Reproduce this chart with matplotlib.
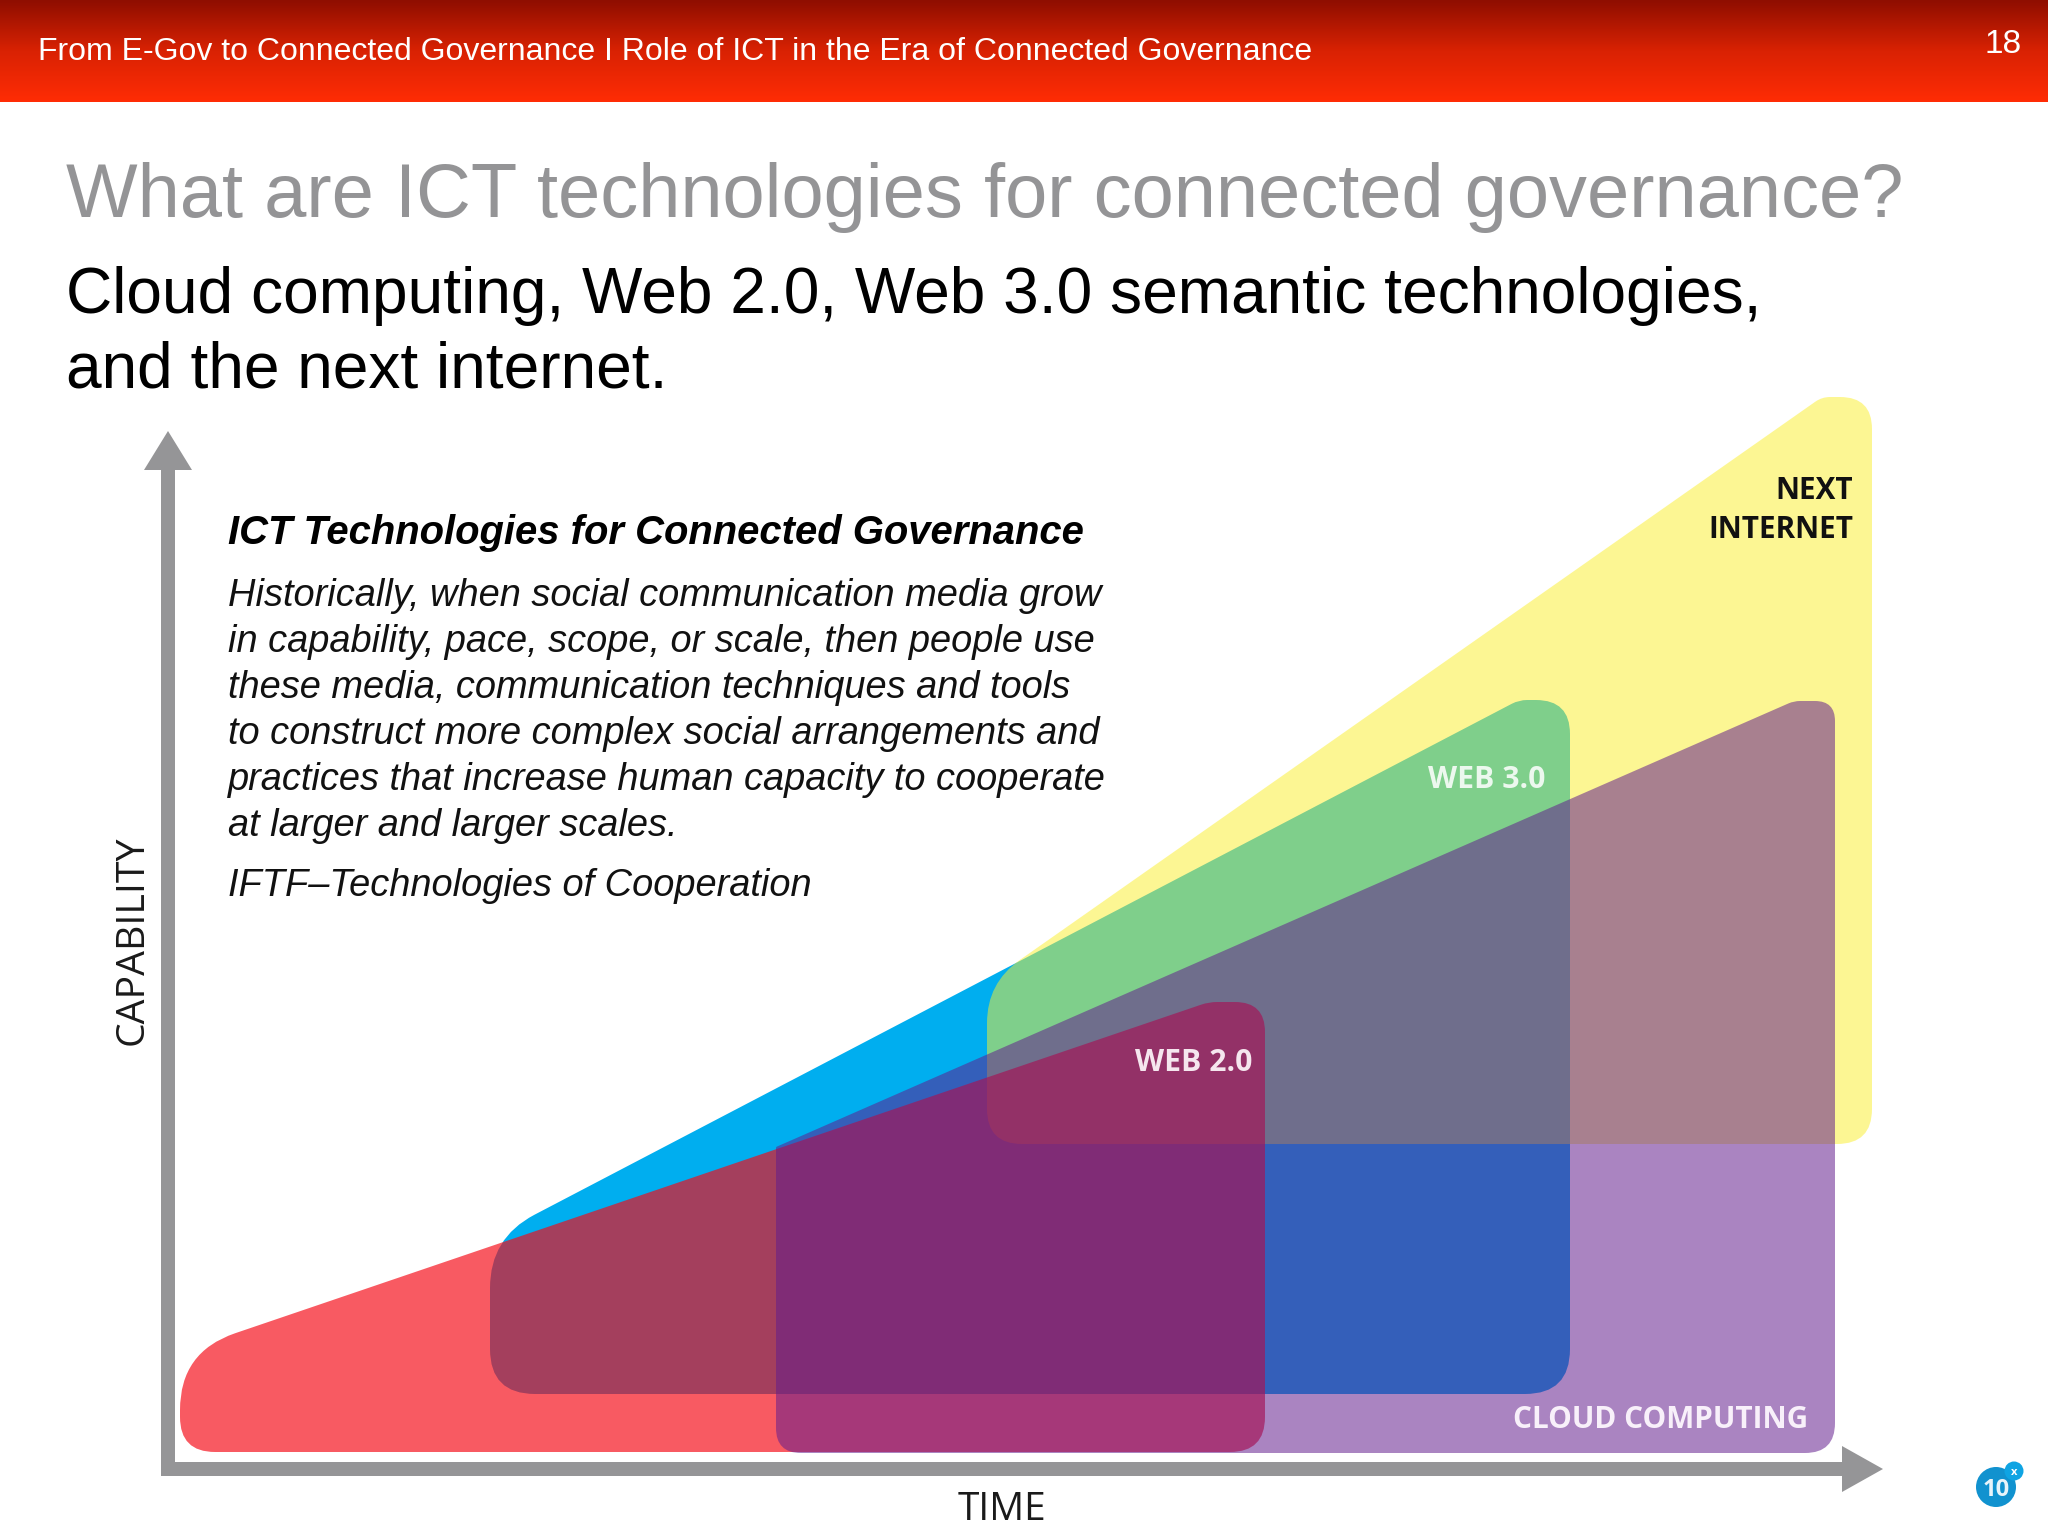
import numpy as np
import matplotlib
matplotlib.use("Agg")
import matplotlib.pyplot as plt
from matplotlib.colors import LinearSegmentedColormap
from matplotlib.patches import Circle, PathPatch, Polygon
from matplotlib.path import Path

plt.rcParams['font.family'] = ['Liberation Sans', 'DejaVu Sans']

header_text = "From E-Gov to Connected Governance I Role of ICT in the Era of Connected Governance"
page_number = "18"
title = "What are ICT technologies for connected governance?"
subtitle_lines = ["Cloud computing, Web 2.0, Web 3.0 semantic technologies,", "and the next internet."]
inset_title = "ICT Technologies for Connected Governance"
inset_lines = ["Historically, when social communication media grow",
               "in capability, pace, scope, or scale, then people use",
               "these media, communication techniques and tools",
               "to construct more complex social arrangements and",
               "practices that increase human capacity to cooperate",
               "at larger and larger scales."]
inset_source = "IFTF\u2013Technologies of Cooperation"

# outline corners of each region (x, y in image pixels) and how far each corner is rounded
red_corners = [(180, 1352), (180, 1452), (1265, 1452), (1265, 1002), (1209, 1002)]
red_round = [58, 35, 35, 30, 8]
blue_corners = [(490, 1238), (490, 1394), (1570, 1394), (1570, 700), (1519, 700)]
blue_round = [50, 45, 45, 34, 8]
yellow_corners = [(987, 983), (987, 1144), (1872, 1144), (1872, 397), (1822, 397)]
yellow_round = [40, 35, 35, 32, 8]
purple_corners = [(776, 1147), (776, 1453), (1835, 1453), (1835, 701), (1794, 701)]
purple_round = [1, 25, 30, 20, 6]


def rounded_path(corners, rounds):
    verts = []
    codes = []
    n = len(corners)
    for i in range(n):
        p = np.array(corners[i], dtype=float)
        prev = np.array(corners[i - 1], dtype=float)
        nxt = np.array(corners[(i + 1) % n], dtype=float)
        start = p + (prev - p) / np.linalg.norm(prev - p) * rounds[i]
        end = p + (nxt - p) / np.linalg.norm(nxt - p) * rounds[i]
        verts += [start, p, end]
        codes += [Path.MOVETO if i == 0 else Path.LINETO, Path.CURVE3, Path.CURVE3]
    verts.append(verts[0])
    codes.append(Path.CLOSEPOLY)
    return Path(verts, codes)


fig = plt.figure(figsize=(20.48, 15.36), dpi=100)
ax = fig.add_axes([0, 0, 1, 1])

# header bar
cmap = LinearSegmentedColormap.from_list("header", ["#8F0E00", "#D92203", "#FF2C05"])
ax.imshow(np.linspace(0, 1, 102).reshape(-1, 1), cmap=cmap, extent=(0, 2048, 102, 0), aspect='auto')
ax.text(38, 60, header_text, color='white', fontsize=23.0, va='baseline')
ax.text(2003, 53, page_number, color='white', fontsize=24, ha='center', va='baseline')

# titles
ax.text(66, 217, title, color='#949496', fontsize=54.6, va='baseline')
ax.text(66, 313, subtitle_lines[0], color='black', fontsize=46.1, va='baseline')
ax.text(66, 388, subtitle_lines[1], color='black', fontsize=46.1, va='baseline')

# regions, order matters for the overlap colours
ax.add_patch(PathPatch(rounded_path(blue_corners, blue_round), fc='#00AEEF', ec='none'))
ax.add_patch(PathPatch(rounded_path(yellow_corners, yellow_round), fc=(251/255, 239/255, 43/255), alpha=0.51, ec='none'))
ax.add_patch(PathPatch(rounded_path(red_corners, red_round), fc=(246/255, 9/255, 21/255), alpha=0.67, ec='none'))
ax.add_patch(PathPatch(rounded_path(purple_corners, purple_round), fc=(98/255, 28/255, 141/255), alpha=0.54, ec='none'))

# axes arrows
axis_gray = '#959597'
ax.add_patch(Polygon([(161, 1476), (161, 470), (175, 470), (175, 1462), (1842, 1462), (1842, 1476)], fc=axis_gray, ec='none'))
ax.add_patch(Polygon([(144, 470), (168, 431), (192, 470)], fc=axis_gray, ec='none'))
ax.add_patch(Polygon([(1842, 1446), (1883, 1469), (1842, 1492)], fc=axis_gray, ec='none'))

# inset text
ax.text(228, 544, inset_title, color='black', fontsize=28.8, style='italic', weight='bold', va='baseline')
line_y = [606, 652, 698, 744, 790, 836]
for y, line in zip(line_y, inset_lines):
    ax.text(228, y, line, color='#111111', fontsize=27.4, style='italic', va='baseline')
ax.text(228, 896, inset_source, color='#111111', fontsize=27.4, style='italic', va='baseline')

# labels inside the graphic
label_font = ['Open Sans', 'DejaVu Sans']
ax.text(1853, 499, "NEXT", color='#111111', family=label_font, weight='bold', fontsize=21.3, ha='right', va='baseline')
ax.text(1853, 538, "INTERNET", color='#111111', family=label_font, weight='bold', fontsize=21.3, ha='right', va='baseline')
ax.text(1545, 788, "WEB 3.0", color='#ECF8EE', family=label_font, weight='bold', fontsize=21.7, ha='right', va='baseline')
ax.text(1252, 1071, "WEB 2.0", color='#F5E6EE', family=label_font, weight='bold', fontsize=21.7, ha='right', va='baseline')
ax.text(1808, 1428, "CLOUD COMPUTING", color='#F8F0FA', family=label_font, weight='bold', fontsize=21.45, ha='right', va='baseline')
ax.text(152, 940, "CAPABILITY", color='#1A1A1A', family=label_font, fontsize=28.3, rotation=90, ha='right', va='center')
ax.text(1002, 1520, "TIME", color='#1A1A1A', family=label_font, fontsize=28, ha='center', va='baseline')

# badge at the corner
ax.add_patch(Circle((1996, 1487), 20, fc='#1192CF', ec='none'))
ax.add_patch(Circle((2014, 1471), 9.5, fc='#0FA4E3', ec='none'))
ax.text(1996, 1496, "10", color='#E8F4FA', family=label_font, weight='bold', fontsize=17, ha='center', va='baseline')
ax.text(2014, 1475, "x", color='white', family=label_font, weight='bold', fontsize=8, ha='center', va='baseline')

ax.set_xlim(0, 2048)
ax.set_ylim(1536, 0)
ax.axis('off')

fig.savefig("out.png", dpi=100, facecolor='white')
